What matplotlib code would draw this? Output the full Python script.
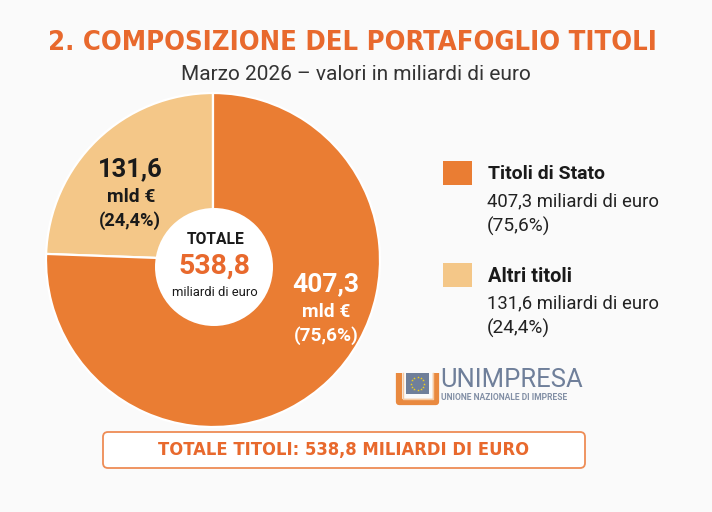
import matplotlib
matplotlib.use("Agg")
import matplotlib.pyplot as plt
from matplotlib import font_manager
from matplotlib.font_manager import FontProperties
from matplotlib.patches import Circle, Rectangle, FancyBboxPatch
import numpy as np

# ---------------- data ----------------
categories = ["Titoli di Stato", "Altri titoli"]
values = [407.3, 131.6]          # miliardi di euro
shares = [75.6, 24.4]            # %
total = 538.8
title = "2. COMPOSIZIONE DEL PORTAFOGLIO TITOLI"
subtitle = "Marzo 2026 \u2013 valori in miliardi di euro"

# ---------------- style ----------------
ORANGE = "#EA7D33"
LIGHT = "#F4C788"
TITLE_OR = "#E8692D"
DARK = "#1A1A1A"
BG = "#FAFAFA"
LOGO_BLUE = "#6F7F9A"

def it(v):
    return f"{v:.1f}".replace(".", ",")

# pick a condensed bold font if one is installed
cond_fp = None
for f in font_manager.fontManager.ttflist:
    low = (f.name + " " + f.fname).lower()
    if ("condensed" in low or "narrow" in low) and f.weight in ("bold", 700, "semibold", 600):
        cond_fp = FontProperties(fname=f.fname)
        break
if cond_fp is None:
    cond_fp = FontProperties(family=["Roboto", "DejaVu Sans"], weight="bold")

BASE = ["Roboto", "DejaVu Sans"]

W, H = 712, 512
fig = plt.figure(figsize=(W / 100, H / 100), dpi=100)
fig.patch.set_facecolor(BG)
ax = fig.add_axes([0, 0, 1, 1])

def Y(y):
    return H - y

# ---------------- pie ----------------
cx, cy, R = 213, 260, 167
ax.pie(values[::-1], colors=[LIGHT, ORANGE], startangle=90, counterclock=True,
       center=(cx, Y(cy)), radius=R,
       wedgeprops=dict(edgecolor="white", linewidth=1.6))
ax.add_patch(Circle((214, Y(267)), 59, facecolor="white", edgecolor="none", zorder=3))

ax.set_xlim(0, W)
ax.set_ylim(0, H)
ax.set_aspect("equal")
ax.axis("off")

texts = []

def put(x, y, s, target_w, ha="center", color=DARK, weight="normal", fp=None, z=5):
    if fp is not None:
        t = ax.text(x, Y(y), s, ha=ha, va="center", color=color, fontproperties=fp.copy(), zorder=z)
    else:
        t = ax.text(x, Y(y), s, ha=ha, va="center", color=color, family=BASE,
                    weight=weight, fontsize=12, zorder=z)
    texts.append((t, target_w))
    return t

# title & subtitle
put(352, 43, title, 606, color=TITLE_OR, fp=cond_fp)
put(356, 75, subtitle, 348, color="#333333")

# labels in slices
put(130, 169, it(values[1]), 65, weight="bold")
put(131, 197, "mld \u20ac", 48, weight="semibold")
put(130, 221, f"({it(shares[1])}%)", 62, weight="semibold")

put(326, 284, it(values[0]), 67, weight="bold", color="white")
put(326, 312, "mld \u20ac", 48, weight="semibold", color="white")
put(326, 336, f"({it(shares[0])}%)", 65, weight="semibold", color="white")

# centre
put(216, 240, "TOTALE", 58, weight="bold")
put(214, 266, it(total), 72, weight="semibold", color=TITLE_OR)
put(215, 293, "miliardi di euro", 85)

# legend
leg_colors = [ORANGE, LIGHT]
leg_y = [173, 275]
for i, (cat, v, sh) in enumerate(zip(categories, values, shares)):
    y0 = leg_y[i]
    ax.add_patch(Rectangle((443, Y(y0 + 12)), 29, 24, facecolor=leg_colors[i], edgecolor="none"))
    put(488, y0 + 1, cat, 117 if i == 0 else 84, ha="left", weight="bold")
    put(487, y0 + 28, f"{it(v)} miliardi di euro", 171, ha="left", color="#222222")
    put(487, y0 + 53, f"({it(sh)}%)", 63, ha="left", color="#222222")

# logo
ux0, ux1, uy0, uy1 = 399, 436, 373, 402
ax.plot([ux0, ux0, ux1, ux1], [Y(uy0), Y(uy1), Y(uy1), Y(uy0)], color="#E9893F",
        lw=4.5, solid_joinstyle="round", solid_capstyle="butt", zorder=4)
ax.plot([ux0 + 3.5, ux0 + 3.5, ux1 - 3.5, ux1 - 3.5],
        [Y(uy0), Y(uy1 - 3.5), Y(uy1 - 3.5), Y(uy0)], color="#F6C9A0",
        lw=1.0, zorder=4)
ax.add_patch(Rectangle((406, Y(394)), 23, 21, facecolor=LOGO_BLUE, edgecolor="none", zorder=5))
ang = np.linspace(0, 2 * np.pi, 12, endpoint=False)
ax.scatter(417.5 + 6.5 * np.cos(ang), Y(383.5) + 6.5 * np.sin(ang), marker="*", s=4,
           color="#F2D21B", linewidths=0, zorder=6)
put(440, 380, "UNIMPRESA", 142, ha="left", color=LOGO_BLUE)
put(441, 397, "UNIONE NAZIONALE DI IMPRESE", 128, ha="left", color="#8390A6", weight="bold")

# bottom box
ax.add_patch(FancyBboxPatch((103, Y(468)), 482, 36,
                            boxstyle="round,pad=0,rounding_size=5",
                            facecolor="white", edgecolor="#EE8C55", linewidth=1.3, zorder=2))
put(344, 450, f"TOTALE TITOLI: {it(total)} MILIARDI DI EURO", 369, color=TITLE_OR, fp=cond_fp)

# fit text widths to the reference layout
fig.canvas.draw()
r = fig.canvas.get_renderer()
for t, w in texts:
    bb = t.get_window_extent(r)
    t.set_fontsize(t.get_fontsize() * w / bb.width)

fig.savefig("out.png", dpi=100, facecolor=BG)
